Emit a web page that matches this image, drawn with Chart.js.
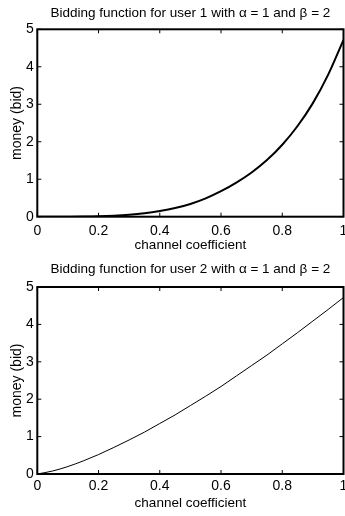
<!DOCTYPE html>
<html>
<head>
<meta charset="utf-8">
<script src="https://cdn.jsdelivr.net/npm/chart.js@4.4.0/dist/chart.umd.min.js"></script>
<style>
  html, body { margin: 0; padding: 0; background: #fff; }
  canvas { display: block; }
</style>
</head>
<body>
<canvas id="c1" width="345" height="258"></canvas>
<canvas id="c2" width="345" height="258"></canvas>
<script>
// ---- data ----
const coeff = [0, 0.05, 0.1, 0.15, 0.2, 0.25, 0.3, 0.35, 0.4, 0.45, 0.5,
               0.55, 0.6, 0.65, 0.7, 0.75, 0.8, 0.85, 0.9, 0.95, 1];
const bidUser1 = [0, 0, 0.0006, 0.003, 0.01, 0.025, 0.05, 0.09, 0.15, 0.23, 0.34,
                  0.49, 0.68, 0.91, 1.18, 1.51, 1.92, 2.42, 3.03, 3.79, 4.72];
const bidUser2 = [0, 0.08, 0.20, 0.35, 0.52, 0.71, 0.91, 1.12, 1.35, 1.58, 1.83,
                  2.08, 2.34, 2.62, 2.90, 3.18, 3.48, 3.78, 4.09, 4.40, 4.72];
const xTicks = [0, 0.2, 0.4, 0.6, 0.8, 1];
const xTickLabels = ['0', '0.2', '0.4', '0.6', '0.8', '1'];
const yTicks = [0, 1, 2, 3, 4, 5];
const yTickLabels = ['0', '1', '2', '3', '4', '5'];
const title1 = 'Bidding function for user 1 with \u03B1 = 1 and \u03B2 = 2';
const title2 = 'Bidding function for user 2 with \u03B1 = 1 and \u03B2 = 2';
const xTitle = 'channel coefficient';
const yTitle = 'money (bid)';

const FONT = "'Liberation Sans', Arial, Helvetica, sans-serif";

const boxPlugin = {
  id: 'matlabBox',
  afterDatasetsDraw(chart) {
    const { ctx, chartArea: a, scales } = chart;
    ctx.save();
    ctx.strokeStyle = '#000';
    ctx.lineWidth = 1;
    const tl = 4;
    scales.x.ticks.forEach(t => {
      const px = scales.x.getPixelForValue(t.value);
      ctx.beginPath();
      ctx.moveTo(px, a.bottom); ctx.lineTo(px, a.bottom - tl);
      ctx.moveTo(px, a.top); ctx.lineTo(px, a.top + tl);
      ctx.stroke();
    });
    scales.y.ticks.forEach(t => {
      const py = scales.y.getPixelForValue(t.value);
      ctx.beginPath();
      ctx.moveTo(a.left, py); ctx.lineTo(a.left + tl, py);
      ctx.moveTo(a.right, py); ctx.lineTo(a.right - tl, py);
      ctx.stroke();
    });
    ctx.lineWidth = 2;
    ctx.strokeRect(a.left, a.top, a.right - a.left, a.bottom - a.top);
    ctx.restore();
  }
};

function makeChart(id, values, lineWidth, title, cfg) {
  const H = 258;
  return new Chart(document.getElementById(id), {
    type: 'line',
    data: {
      datasets: [{
        data: coeff.map((c, i) => ({ x: c, y: values[i] })),
        borderColor: '#000',
        borderWidth: lineWidth,
        pointRadius: 0,
        fill: false,
        cubicInterpolationMode: 'monotone'
      }]
    },
    options: {
      responsive: false,
      animation: false,
      devicePixelRatio: 1,
      layout: { padding: { left: 0, right: 1.5, top: 0, bottom: 0 } },
      plugins: {
        legend: { display: false },
        tooltip: { enabled: false },
        title: {
          display: true,
          fullSize: false,
          text: title,
          color: '#000',
          font: { family: FONT, size: 13.5, weight: 'normal', lineHeight: 1.2 },
          padding: { top: cfg.titleTop, bottom: cfg.titleBottom }
        }
      },
      scales: {
        x: {
          type: 'linear',
          min: 0, max: 1,
          grid: { display: false, drawTicks: false },
          border: { display: false },
          afterBuildTicks: s => { s.ticks = xTicks.map(v => ({ value: v })); },
          afterFit: s => { s.height = H - cfg.areaBottom; s.paddingLeft = 0; s.paddingRight = 0; },
          ticks: {
            autoSkip: false, maxRotation: 0, minRotation: 0,
            padding: cfg.xTickPad,
            color: '#000',
            font: { family: FONT, size: 14 },
            callback: (v, i) => xTickLabels[i]
          },
          title: {
            display: true, text: xTitle, color: '#000',
            font: { family: FONT, size: 13.5, lineHeight: 1.2 },
            padding: { top: 0, bottom: cfg.xTitlePad }
          }
        },
        y: {
          type: 'linear',
          min: 0, max: 5,
          grid: { display: false, drawTicks: false },
          border: { display: false },
          afterBuildTicks: s => { s.ticks = yTicks.map(v => ({ value: v })); },
          afterFit: s => { s.width = 37.3; s.paddingTop = 0; s.paddingBottom = 0; },
          ticks: {
            padding: 3.5,
            color: '#000',
            font: { family: FONT, size: 14 },
            callback: (v, i) => yTickLabels[i]
          },
          title: {
            display: true, text: yTitle, color: '#000',
            font: { family: FONT, size: 14, lineHeight: 1.2 },
            padding: { top: 8.6, bottom: 0 }
          }
        }
      }
    },
    plugins: [boxPlugin]
  });
}

makeChart('c1', bidUser1, 2, title1,
  { titleTop: 4.9, titleBottom: 8.2, areaBottom: 216.7, xTickPad: 6.3, xTitlePad: 4.7 });
makeChart('c2', bidUser2, 1, title2,
  { titleTop: 3.3, titleBottom: 9.5, areaBottom: 216, xTickPad: 4.1, xTitlePad: 4.9 });
</script>
</body>
</html>
